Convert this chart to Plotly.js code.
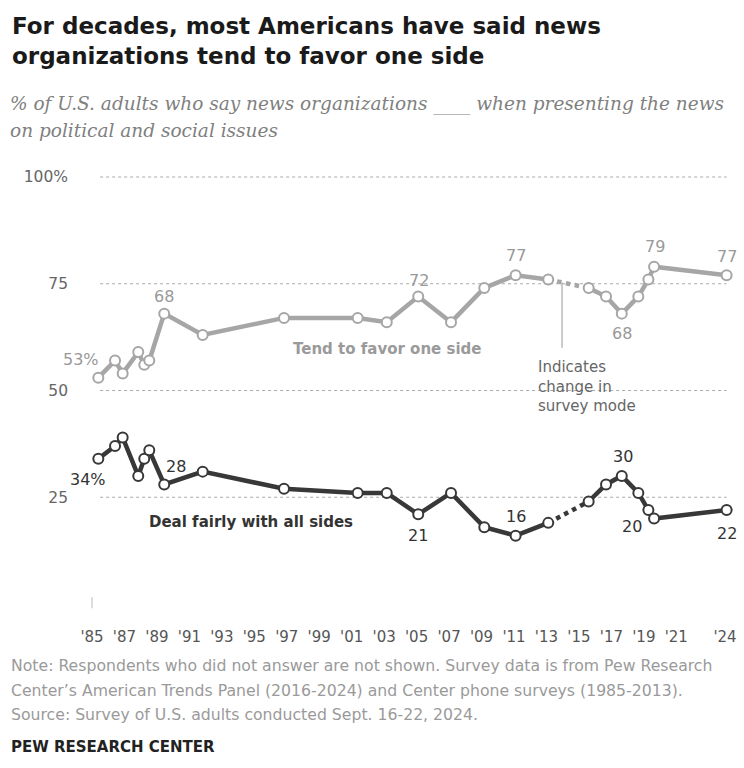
<!DOCTYPE html>
<html><head><meta charset="utf-8">
<script src="https://cdn.plot.ly/plotly-3.0.1.min.js"></script>
<style>html,body{margin:0;padding:0;background:#fff}#chart{width:744px;height:768px}</style>
</head><body><div id="chart"></div>
<script>
// ---- data ----
const surveyYears = [1985.39,1986.42,1986.89,1987.85,1988.22,1988.53,1989.45,1991.82,1996.83,2001.37,2003.16,2005.1,2007.12,2009.17,2011.1,2013.11,2015.6,2016.67,2017.64,2018.66,2019.28,2019.63,2024.1];
const favorOneSide = [53,57,54,59,56,57,68,63,67,67,66,72,66,74,77,76,74,72,68,72,76,79,77];
const dealFairly   = [34,37,39,30,34,36,28,31,27,26,26,21,26,18,16,19,24,28,30,26,22,20,22];
const seriesNames = ["Tend to favor one side","Deal fairly with all sides"];
const xTickVals = [1985,1987,1989,1991,1993,1995,1997,1999,2001,2003,2005,2007,2009,2011,2013,2015,2017,2019,2021,2024];
const xTickText = ["'85","'87","'89","'91","'93","'95","'97","'99","'01","'03","'05","'07","'09","'11","'13","'15","'17","'19","'21","'24"];
const yTickVals = [25,50,75,100];
const yTickText = ["25","50","75","100%"];
const lastPhoneIndex = 15; // last phone survey (2013); next point is first ATP survey
const subtitleLines = [
  "% of U.S. adults who say news organizations ____ when presenting the news",
  "on political and social issues"
];
const noteLines = [
  "Note: Respondents who did not answer are not shown. Survey data is from Pew Research",
  "Center\u2019s American Trends Panel (2016-2024) and Center phone surveys (1985-2013).",
  "Source: Survey of U.S. adults conducted Sept. 16-22, 2024."
];

// ---- layout geometry ----
const W=744,H=768,mL=85,mR=9,mT=150,mB=153;
const pw=W-mL-mR, ph=H-mT-mB;
const px=x=>(x-mL)/pw, py=y=>(H-mB-y)/ph;

const FONT='DejaVu Sans';
const cLight='#a6a6a6', cDark='#383838';

function seriesTraces(vals,color){
  const pre={x:surveyYears.slice(0,lastPhoneIndex+1),y:vals.slice(0,lastPhoneIndex+1)};
  const br ={x:surveyYears.slice(lastPhoneIndex,lastPhoneIndex+2),y:vals.slice(lastPhoneIndex,lastPhoneIndex+2)};
  const post={x:surveyYears.slice(lastPhoneIndex+1),y:vals.slice(lastPhoneIndex+1)};
  const mk={symbol:'circle',size:10,color:'#fff',line:{color:color,width:2}};
  return [
    {type:'scatter',mode:'lines',x:br.x,y:br.y,line:{color:color,width:4.5,dash:'dot'},hoverinfo:'skip',showlegend:false},
    {type:'scatter',mode:'lines+markers',x:pre.x,y:pre.y,line:{color:color,width:4.5},marker:mk,showlegend:false},
    {type:'scatter',mode:'lines+markers',x:post.x,y:post.y,line:{color:color,width:4.5},marker:mk,showlegend:false}
  ];
}
const traces=[...seriesTraces(favorOneSide,cLight),...seriesTraces(dealFairly,cDark)];

// value labels: which points get labels and where (offset in px)
const favorLabels=[{i:0,pct:true,dx:-17,dy:18},{i:6,dx:0,dy:17},{i:11,dx:1,dy:16},{i:14,dx:0,dy:20},{i:21,dx:1,dy:20},{i:18,dx:0,dy:-20},{i:22,dx:0,dy:19}];
const fairLabels=[{i:0,pct:true,dx:-10,dy:-21},{i:6,dx:12,dy:18},{i:11,dx:0,dy:-21},{i:14,dx:0,dy:19},{i:18,dx:1,dy:19},{i:21,dx:-22,dy:-8},{i:22,dx:0,dy:-23}];
const ann=[];
function addLabels(specs,vals,color){
  specs.forEach(s=>ann.push({xref:'x',yref:'y',x:surveyYears[s.i],y:vals[s.i],text:vals[s.i]+(s.pct?'%':''),
    showarrow:false,xshift:s.dx,yshift:s.dy,font:{family:FONT,size:16,color:color},xanchor:'center',yanchor:'middle'}));
}
addLabels(favorLabels,favorOneSide,'#999');
addLabels(fairLabels,dealFairly,'#333');

// series names
ann.push({xref:'paper',yref:'paper',x:px(387),y:py(349),text:seriesNames[0],showarrow:false,xanchor:'center',yanchor:'middle',font:{family:FONT,size:15,color:'#9a9a9a',weight:'bold'}});
ann.push({xref:'paper',yref:'paper',x:px(251),y:py(522),text:seriesNames[1],showarrow:false,xanchor:'center',yanchor:'middle',font:{family:FONT,size:15,color:'#333',weight:'bold'}});
// survey mode note
ann.push({xref:'paper',yref:'paper',x:px(536),y:py(356),text:'Indicates<br>change in<br>survey mode',showarrow:false,xanchor:'left',yanchor:'top',align:'left',font:{family:FONT,size:15,color:'#666'}});
// subtitle (one annotation per line)
const subY=[104,130];
subtitleLines.forEach((t,k)=>ann.push({xref:'paper',yref:'paper',x:px(8),y:py(subY[k]),text:t,showarrow:false,xanchor:'left',yanchor:'middle',font:{family:'DejaVu Serif',size:18.5,color:'#808080',style:'italic'}}));
// notes (one annotation per line to match line spacing)
const noteY=[665,690,714];
noteLines.forEach((t,k)=>ann.push({xref:'paper',yref:'paper',x:px(9),y:py(noteY[k]),text:t,showarrow:false,xanchor:'left',yanchor:'middle',font:{family:FONT,size:15.7,color:'#9a9a9a'}}));
ann.push({xref:'paper',yref:'paper',x:px(9),y:py(747),text:'PEW RESEARCH CENTER',showarrow:false,xanchor:'left',yanchor:'middle',font:{family:FONT,size:15,color:'#222',weight:'bold'}});

const shapes=yTickVals.map(v=>({type:'line',xref:'x',yref:'y',x0:1985.5,x1:2024.1,y0:v,y1:v,layer:'below',line:{color:'#aaa',width:1.2,dash:'dot'}}));
shapes.push({type:'line',xref:'x',yref:'y',x0:2013.96,x1:2013.96,y0:75.3,y1:60,line:{color:'#999',width:1}});
// small tick at the start of the time axis
shapes.push({type:'line',xref:'x',yref:'y',x0:xTickVals[0],x1:xTickVals[0],y0:-1,y1:1.6,line:{color:'#bbb',width:1}});

const layout={
  width:W,height:H,margin:{l:mL,r:mR,t:mT,b:mB},
  paper_bgcolor:'#fff',plot_bgcolor:'#fff',showlegend:false,
  title:{text:'For decades, most Americans have said news<br>organizations tend to favor one side',x:12/W,xanchor:'left',xref:'container',y:1-34/H,yanchor:'top',yref:'container',
    font:{family:FONT,size:23,color:'#1a1a1a',weight:'bold'}},
  xaxis:{range:[1984.569,2024.616],tickvals:xTickVals,ticktext:xTickText,showgrid:false,zeroline:false,showline:false,ticks:'',
    tickfont:{family:FONT,size:15,color:'#555'},ticklabelstandoff:11,fixedrange:true},
  yaxis:{range:[-2.576,106.32],tickvals:yTickVals,ticktext:yTickText,showgrid:false,zeroline:false,showline:false,ticks:'',
    tickfont:{family:FONT,size:15.5,color:'#666'},ticklabelstandoff:16,fixedrange:true},
  annotations:ann,shapes:shapes
};
Plotly.newPlot('chart',traces,layout,{displayModeBar:false,staticPlot:true});
</script></body></html>
